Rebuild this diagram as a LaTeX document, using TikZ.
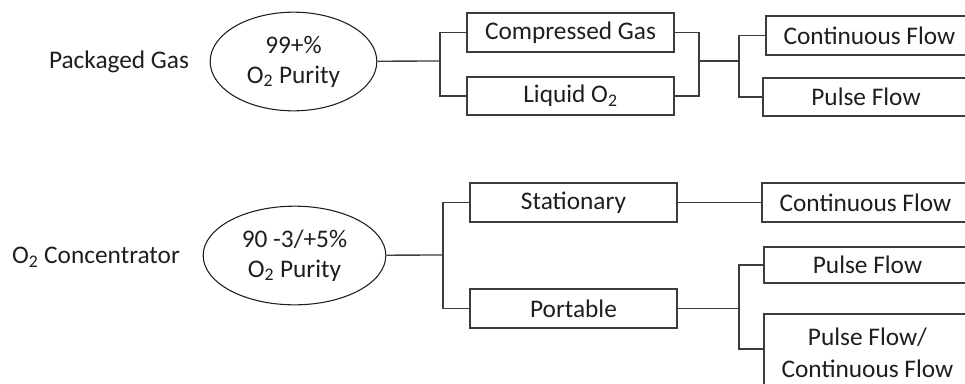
\documentclass[tikz,border=0pt]{standalone}
\usepackage{fontspec}
\setmainfont{Carlito}
\usepackage{tikz}
\usetikzlibrary{shapes.geometric,positioning,calc}
\definecolor{ink}{HTML}{1E1E1E}
\definecolor{rule}{HTML}{3C3C3C}
\newcommand{\oxy}{O\textsubscript{2}}
\tikzset{
  purity/.style={ellipse, draw=ink, line width=0.8pt, align=center, inner sep=0pt,
                 minimum height=74pt, text=ink, font=\fontsize{19}{22.5}\selectfont},
  opt/.style={rectangle, draw=rule, line width=1.4pt, align=center, inner sep=0pt,
              minimum width=155pt, minimum height=29pt, text=ink,
              font=\fontsize{19}{24}\selectfont},
  lab/.style={font=\fontsize{19}{23}\selectfont, text=ink},
  link/.style={draw=rule, line width=1pt},
}

\begin{document}
\begin{tikzpicture}[x=0.75pt, y=-0.75pt]
    \useasboundingbox (0,0) rectangle (965,383);
    \clip (0,0) rectangle (965,383);
    % packaged gas
    \node[lab] (pg) at (119,62) {Packaged Gas};
    \node[purity, minimum width=125pt] (pe) at (293.5,61.5) {99+\%\\\oxy{} Purity};
    \node[opt] (cg) at (570.5,32.5) {Compressed Gas};
    \node[opt] (lq) at (570.5,96) {Liquid \oxy};
    \node[opt] (cf) at (869.5,35.5) {Continuous Flow};
    \node[opt] (pf) at (866,97) {Pulse Flow};
    \coordinate (ja) at (440,61);
    \coordinate (jb) at (699,61);
    \coordinate (jc) at (739,61);
    \draw[link] (pe) -- (ja);
    \draw[link] (cg.west) -| (ja) |- (lq.west);
    \draw[link] (cg.east) -| (jb) |- (lq.east);
    \draw[link] (jb) -- (jc);
    \draw[link] (cf.west) -| (jc) |- (pf.west);
    % concentrator
    \node[lab] (oc) at (96,257) {\oxy{} Concentrator};
    \node[purity, minimum width=137pt] (oe) at (294.5,255.5) {90 -3/+5\%\\\oxy{} Purity};
    \node[opt] (st) at (573.5,202.5) {Stationary};
    \node[opt] (pt) at (573.5,308.5) {Portable};
    \node[opt] (cf2) at (865.5,202.5) {Continuous Flow};
    \node[opt, minimum height=27pt] (pf2) at (867.5,265) {Pulse Flow};
    \node[opt, minimum height=59pt] (pc) at (867.5,353) {Pulse Flow/\\Continuous Flow};
    \coordinate (jd) at (443,255);
    \coordinate (je) at (739,308.5);
    \draw[link] (oe) -- (jd);
    \draw[link] (st.west) -| (jd) |- (pt.west);
    \draw[link] (st) -- (cf2);
    \draw[link] (pt) -- (je);
    \draw[link] (pf2.west) -| (je) |- ([yshift=3pt]pc.west);
  \end{tikzpicture}
\end{document}
